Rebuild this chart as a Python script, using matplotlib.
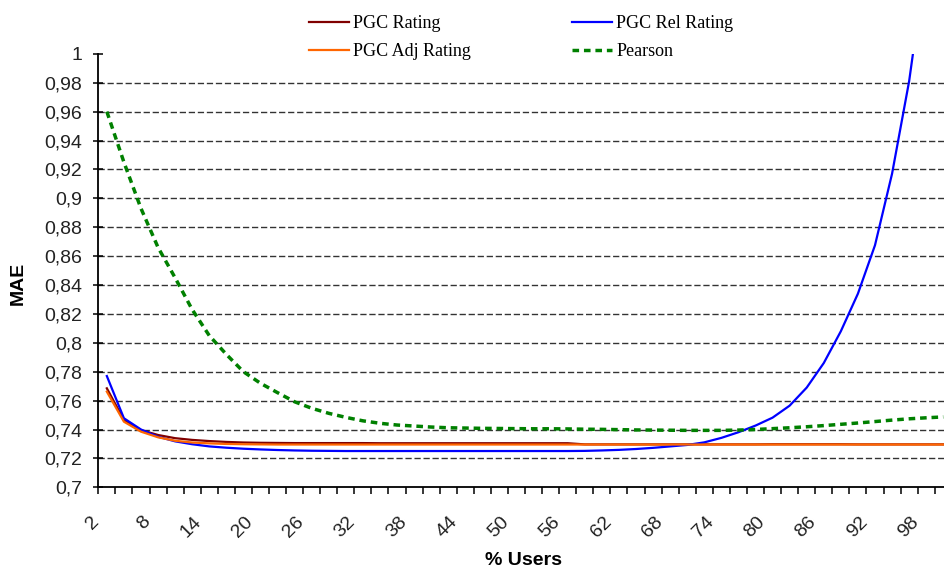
import matplotlib
matplotlib.use("Agg")
import matplotlib.pyplot as plt
import matplotlib.transforms as mtransforms

# % users (categories, step 2)
users = [2, 4, 6, 8, 10, 12, 14, 16, 18, 20, 22, 24, 26, 28, 30, 32, 34, 36, 38, 40,
         42, 44, 46, 48, 50, 52, 54, 56, 58, 60, 62, 64, 66, 68, 70, 72, 74, 76, 78, 80,
         82, 84, 86, 88, 90, 92, 94, 96, 98, 100]

# MAE per series
pgc_rating = [0.7685, 0.7466, 0.7396, 0.7362, 0.7340, 0.7328, 0.7320, 0.7314, 0.7310, 0.7308,
              0.7307, 0.7306, 0.7306, 0.7306, 0.7306, 0.7306, 0.7305, 0.7305, 0.7305, 0.7305,
              0.7305, 0.7305, 0.7305, 0.7305, 0.7305, 0.7305, 0.7305, 0.7305, 0.7297, 0.7297,
              0.7297, 0.7297, 0.7297, 0.7297, 0.7297, 0.7297, 0.7297, 0.7297, 0.7297, 0.7298,
              0.7298, 0.7298, 0.7298, 0.7298, 0.7297, 0.7297, 0.7297, 0.7297, 0.7297, 0.7297]
pgc_rel = [0.7770, 0.7478, 0.7400, 0.7350, 0.7318, 0.7298, 0.7283, 0.7274, 0.7267, 0.7262,
           0.7258, 0.7255, 0.7253, 0.7252, 0.7251, 0.7251, 0.7251, 0.7251, 0.7251, 0.7251,
           0.7251, 0.7251, 0.7251, 0.7251, 0.7251, 0.7251, 0.7251, 0.7251, 0.7252, 0.7255,
           0.7259, 0.7265, 0.7273, 0.7283, 0.7293, 0.7311, 0.7342, 0.7381, 0.7427, 0.7482,
           0.7565, 0.7690, 0.7860, 0.8080, 0.8340, 0.8675, 0.9170, 0.9810, 1.0660, 1.1800]
pgc_adj = [0.7662, 0.7454, 0.7385, 0.7346, 0.7322, 0.7310, 0.7304, 0.7300, 0.7298, 0.7297,
           0.7296, 0.7296, 0.7296, 0.7296, 0.7296, 0.7296, 0.7296, 0.7296, 0.7296, 0.7296,
           0.7296, 0.7296, 0.7296, 0.7296, 0.7296, 0.7296, 0.7296, 0.7296, 0.7296, 0.7296,
           0.7296, 0.7296, 0.7296, 0.7296, 0.7296, 0.7296, 0.7296, 0.7296, 0.7296, 0.7296,
           0.7296, 0.7296, 0.7296, 0.7296, 0.7296, 0.7296, 0.7296, 0.7296, 0.7296, 0.7296]
pearson = [0.9600, 0.9250, 0.8930, 0.8660, 0.8450, 0.8230, 0.8050, 0.7920, 0.7800, 0.7720,
           0.7655, 0.7592, 0.7547, 0.7512, 0.7484, 0.7460, 0.7443, 0.7431, 0.7424, 0.7417,
           0.7412, 0.7410, 0.7408, 0.7407, 0.7406, 0.7405, 0.7405, 0.7404, 0.7402, 0.7401,
           0.7399, 0.7397, 0.7396, 0.7395, 0.7394, 0.7394, 0.7394, 0.7396, 0.7400, 0.7406,
           0.7412, 0.7419, 0.7427, 0.7436, 0.7445, 0.7455, 0.7465, 0.7474, 0.7481, 0.7487]

x_labels = [2, 8, 14, 20, 26, 32, 38, 44, 50, 56, 62, 68, 74, 80, 86, 92, 98]
y_ticks = [0.70, 0.72, 0.74, 0.76, 0.78, 0.80, 0.82, 0.84, 0.86, 0.88,
           0.90, 0.92, 0.94, 0.96, 0.98, 1.00]

sans = ["Liberation Sans", "DejaVu Sans"]
serif = ["Liberation Serif", "DejaVu Serif"]

W, H = 945, 572
fig = plt.figure(figsize=(W / 100, H / 100), dpi=100)
# plot area runs a bit past the right edge (the original is cropped)
ax = fig.add_axes([98.3 / W, 1 - 487.3 / H, 853.5 / W, 433.5 / H])

l_rating, = ax.plot(users, pgc_rating, color="#800000", lw=1.6)
l_rel, = ax.plot(users, pgc_rel, color="#0000FF", lw=1.6)
l_adj, = ax.plot(users, pgc_adj, color="#FF6600", lw=1.6)
l_pear, = ax.plot(users, pearson, color="#008000", lw=2.5, linestyle=(0, (1.9, 1.4)))

ax.set_xlim(1, 101)
ax.set_ylim(0.7, 1.0)

# tick marks between categories, labels on categories
ax.set_xticks(list(range(1, 102, 2)))
ax.set_xticklabels([])
ax.set_xticks(x_labels, minor=True)
ax.set_xticklabels([str(v) for v in x_labels], minor=True, rotation=45,
                   ha="right", va="center", rotation_mode="anchor",
                   fontsize=14, family=sans, color="#222222")
ax.tick_params(axis="x", which="major", direction="out", length=5, width=1.1, color="black")
ax.tick_params(axis="x", which="minor", length=0, pad=23)
shift = mtransforms.ScaledTranslation(-10 / 100, 0, fig.dpi_scale_trans)
for lab in ax.get_xticklabels(minor=True):
    lab.set_transform(lab.get_transform() + shift)

ax.set_yticks(y_ticks)
ax.set_yticklabels([("%g" % v).replace(".", ",") for v in y_ticks],
                   fontsize=14, family=sans, color="#222222")
ax.tick_params(axis="y", direction="inout", length=7, width=1.1, pad=8, color="black")

ax.yaxis.grid(True, color="#333333", lw=1.0, linestyle=(0, (4.5, 2)))
gl = ax.get_ygridlines()
gl[0].set_visible(False)
gl[-1].set_visible(False)
ax.set_axisbelow(True)

for s in ["top", "right"]:
    ax.spines[s].set_visible(False)
for s in ["left", "bottom"]:
    ax.spines[s].set_linewidth(1.3)
    ax.spines[s].set_color("black")

ax.set_ylabel("MAE", fontsize=14, fontweight="bold", family=sans)
ax.yaxis.set_label_coords((27 - 98.3) / 853.5, (487.3 - 283) / 433.5)
ax.set_xlabel("% Users", fontsize=14, fontweight="bold", family=sans)
ax.xaxis.set_label_coords((524 - 98.3) / 853.5, (487.3 - 552) / 433.5)

fig.legend([l_rating, l_adj, l_rel, l_pear],
           ["PGC Rating", "PGC Adj Rating", "PGC Rel Rating", "Pearson"],
           loc="upper left", bbox_to_anchor=(300 / W, 1 - 6 / H), ncol=2,
           frameon=False, borderpad=0, handlelength=2.2, handletextpad=0.25,
           columnspacing=5.6, labelspacing=0.6,
           prop={"family": serif, "size": 13})

fig.savefig("out.png", dpi=100)
